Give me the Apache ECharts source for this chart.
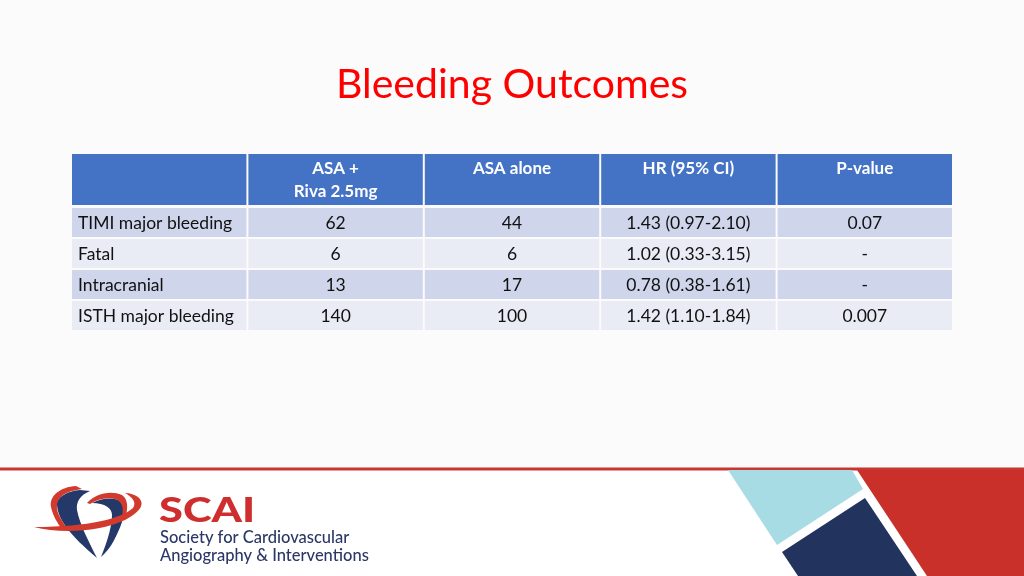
<!DOCTYPE html>
<html>
<head>
<meta charset="utf-8">
<script src="https://cdn.jsdelivr.net/npm/echarts@6/dist/echarts.min.js"></script>
<style>
html,body{margin:0;padding:0;background:#fbfbfb;}
#chart{width:1024px;height:576px;}
</style>
</head>
<body>
<div id="chart"></div>
<script>
// ---- data ----
const titleText = 'Bleeding Outcomes';
const columnHeaders = ['', 'ASA +\nRiva 2.5mg', 'ASA alone', 'HR (95% CI)', 'P-value'];
const outcomes = ['TIMI major bleeding', 'Fatal', 'Intracranial', 'ISTH major bleeding'];
const asaRivaEvents = ['62', '6', '13', '140'];
const asaAloneEvents = ['44', '6', '17', '100'];
const hazardRatios = ['1.43 (0.97-2.10)', '1.02 (0.33-3.15)', '0.78 (0.38-1.61)', '1.42 (1.10-1.84)'];
const pValues = ['0.07', '-', '-', '0.007'];

// ---- build cells ----
const headerCells = columnHeaders.map((t, c) => ({ c: c, r: 0, text: t }));
const bodyCells = [];
outcomes.forEach((o, r) => {
  [o, asaRivaEvents[r], asaAloneEvents[r], hazardRatios[r], pValues[r]].forEach((t, c) => {
    bodyCells.push({ c: c, r: r, text: t });
  });
});

const FONT = 'Lato, "Open Sans", sans-serif';

function makeRender(cells, isHeader) {
  return function (params, api) {
    const cell = cells[params.dataIndex];
    const ctr = api.coord([api.value(0), api.value(1)]);
    const sz = api.size([1, 1]);
    const x = ctr[0] - sz[0] / 2 + 1;
    const y = ctr[1] - sz[1] / 2 + 1;
    const w = sz[0] - 2, h = sz[1] - 2;
    const fill = isHeader ? '#4472C4' : (cell.r % 2 === 0 ? '#CFD5EA' : '#E9EBF5');
    const left = !isHeader && cell.c === 0;
    return {
      type: 'group',
      children: [
        { type: 'rect', shape: { x: x, y: y, width: w, height: h }, style: { fill: fill } },
        {
          type: 'text',
          x: left ? x + 6 : ctr[0],
          y: isHeader ? y + 3 : ctr[1] + 0.5,
          style: {
            text: cell.text,
            fill: isHeader ? '#ffffff' : '#111111',
            font: (isHeader ? 'bold 17px ' : '17.5px ') + FONT,
            align: left ? 'left' : 'center',
            verticalAlign: isHeader ? 'top' : 'middle',
            lineHeight: 23
          }
        }
      ]
    };
  };
}

// heart logo drawn as custom paths (no coordinate system)
const heartParts = [
  { d: 'M80,490 C68,491 56,497 57,505 C58,520 70,535 97,558 C88,540 80,525 77,510 C76,502 80,495 90,491 Z', fill: '#25386A' },
  { d: 'M76,486 C60,487 49,496 51,507 C53,516 57,522 61,528 L66,527 C61,519 56,512 57,505 C57,497 66,491 82,489 Z', fill: '#D23A2E' },
  { d: 'M92,503 C100,499 112,496 120,501 C126,507 124,520 118,532 C114,541 110,549 101,557 C108,540 112,525 112,515 C112,508 105,503 92,503 Z', fill: '#25386A' },
  { d: 'M87,503 C95,494 110,490 122,495 C128,499 128,508 126,515 L122,516 C124,508 122,501 115,499 C106,497 98,499 90,504 Z', fill: '#D23A2E' },
  { d: 'M34,527 C60,534 100,532 125,520 C140,512 146,504 138,497 C135,495 130,493 125,493 C132,497 137,502 133,508 C122,518 90,527 34,527 Z', fill: '#D23A2E' }
];

const chart = echarts.init(document.getElementById('chart'), null, { renderer: 'canvas' });
const option = {
  backgroundColor: '#fbfbfb',
  animation: false,
  title: {
    text: titleText,
    left: 'center',
    top: 59,
    textStyle: { color: '#FF0000', fontSize: 41, fontWeight: 'normal', fontFamily: FONT }
  },
  grid: [
    { left: 71, right: 71, top: 153, height: 53 },
    { left: 71, right: 71, top: 207, height: 124 }
  ],
  xAxis: [
    { type: 'category', data: columnHeaders, gridIndex: 0, show: false },
    { type: 'category', data: columnHeaders, gridIndex: 1, show: false }
  ],
  yAxis: [
    { type: 'category', data: ['header'], gridIndex: 0, inverse: true, show: false },
    { type: 'category', data: outcomes, gridIndex: 1, inverse: true, show: false }
  ],
  series: [
    {
      type: 'custom', xAxisIndex: 0, yAxisIndex: 0,
      data: headerCells.map(d => [d.c, d.r]),
      renderItem: makeRender(headerCells, true),
      silent: true
    },
    {
      type: 'custom', xAxisIndex: 1, yAxisIndex: 1,
      data: bodyCells.map(d => [d.c, d.r]),
      renderItem: makeRender(bodyCells, false),
      silent: true
    },
    {
      type: 'custom', coordinateSystem: 'none', silent: true, z: 10,
      data: [0],
      renderItem: function () {
        return {
          type: 'group',
          children: heartParts.map(p => ({ type: 'path', shape: { pathData: p.d }, style: { fill: p.fill } }))
        };
      }
    }
  ],
  graphic: [
    { type: 'rect', shape: { x: 0, y: 470, width: 1024, height: 106 }, style: { fill: '#ffffff' }, z: -1 },
    { type: 'rect', shape: { x: 0, y: 467.5, width: 1024, height: 3 }, style: { fill: '#C9352F' }, z: 2 },
    { type: 'polygon', shape: { points: [[857, 470], [1024, 470], [1024, 576], [927, 576]] }, style: { fill: '#C9302A' }, z: 2 },
    { type: 'polygon', shape: { points: [[728, 470], [852, 470], [863, 489], [777, 545]] }, style: { fill: '#A7DCE5' }, z: 2 },
    { type: 'polygon', shape: { points: [[782, 552], [865, 498], [917, 576], [798, 576]] }, style: { fill: '#22335E' }, z: 2 },
    { type: 'text', x: 159, y: 493, scaleX: 1.24, style: { text: 'SCAI', fill: '#CF2E2E', font: '900 35px ' + FONT, verticalAlign: 'top' }, z: 3 },
    { type: 'text', x: 160, y: 529, style: { text: 'Society for Cardiovascular', fill: '#2B3867', font: '500 16.5px ' + FONT, verticalAlign: 'top' }, z: 3 },
    { type: 'text', x: 160, y: 547, style: { text: 'Angiography & Interventions', fill: '#2B3867', font: '500 16.5px ' + FONT, verticalAlign: 'top' }, z: 3 }
  ]
};
chart.setOption(option);
</script>
</body>
</html>
